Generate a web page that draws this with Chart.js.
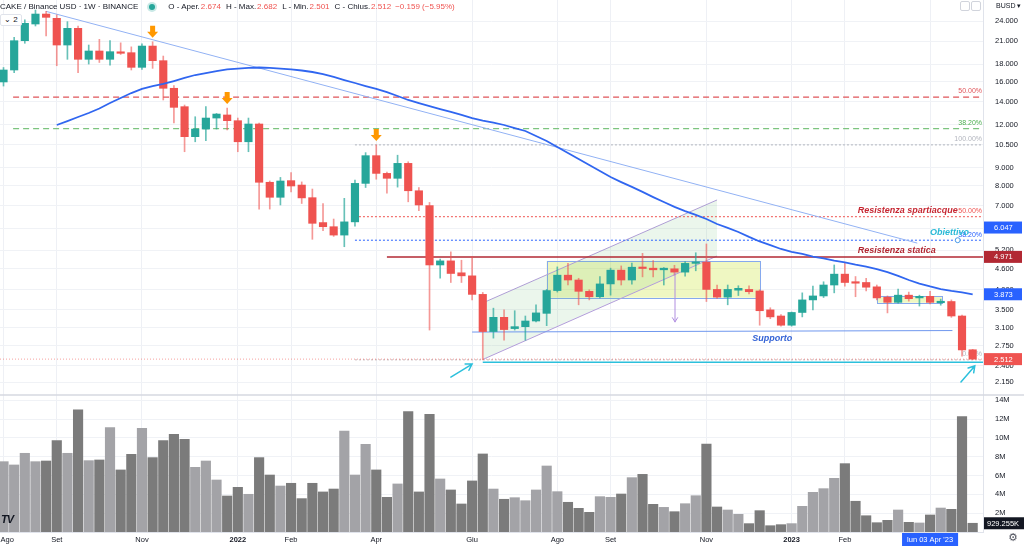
<!DOCTYPE html>
<html>
<head>
<meta charset="utf-8">
<script src="https://cdn.jsdelivr.net/npm/chart.js@4.4.0/dist/chart.umd.min.js"></script>
<style>
html, body { margin: 0; padding: 0; background: #fff; }
#wrap { position: relative; width: 1024px; height: 546px; overflow: hidden; font-family: "Liberation Sans", Arial, sans-serif; }
#chart { position: absolute; left: 0; top: 0; }
#hdr { position: absolute; left: 0; top: 1px; font-size: 8px; line-height: 11px; color: #131722; white-space: nowrap; }
#hdr .k { margin-left: 5px; }
#hdr .v { color: #ef5350; margin-left: 1px; }
#hdr .dot { display: inline-block; width: 6px; height: 6px; border-radius: 50%; background: #26a69a; box-shadow: 0 0 0 2px rgba(38,166,154,0.25); margin: 0 8px 0 11px; vertical-align: -1px; }
#legbtn { position: absolute; left: 0; top: 14px; font-size: 8px; line-height: 10px; padding: 0 3px; border: 1px solid #e0e3eb; border-radius: 2px; background: #fff; color: #131722; }
#cur { position: absolute; left: 996px; top: 2px; font-size: 7px; color: #131722; }
.ico { position: absolute; top: 1px; width: 8px; height: 8px; border: 1px solid #d1d4dc; border-radius: 2px; background: #fff; }
#gear { position: absolute; left: 1008px; top: 531px; font-size: 11px; color: #50535e; font-family: "DejaVu Sans", sans-serif; }
#logo { position: absolute; left: 1px; top: 513px; font-size: 11px; font-weight: bold; font-style: italic; color: #131722; letter-spacing: -1px; }
</style>
</head>
<body>
<div id="wrap">
  <canvas id="chart" width="1024" height="546"></canvas>
  <div id="hdr">CAKE / Binance USD · 1W · BINANCE<span class="dot"></span><span class="k">O - Aper.</span><span class="v">2.674</span><span class="k">H - Max.</span><span class="v">2.682</span><span class="k">L - Min.</span><span class="v">2.501</span><span class="k">C - Chius.</span><span class="v">2.512</span><span class="v" style="margin-left:4px">−0.159 (−5.95%)</span></div>
  <div id="legbtn">⌄ 2</div>
  <div id="cur">BUSD ▾</div>
  <div class="ico" style="left:960px"></div>
  <div class="ico" style="left:971px"></div>
  <div id="gear">⚙</div>
  <div id="logo">TV</div>
</div>
<script>
// settimane: indice 0 = lun 02 Ago 2021 ... 91 = lun 01 Mag 2023
const open  = [15.98,17.31,21.05,23.53,25.15,24.44,20.45,22.86,18.59,19.65,18.59,19.43,19.43,17.62,20.31,18.42,15.32,13.55,11.09,11.67,
               12.56,12.82,12.34,10.72,12.07,8.18,7.40,8.27,8.03,7.38,6.25,6.08,5.75,6.28,8.12,9.77,8.68,8.40,9.28,7.73,
               7.00,4.71,4.84,4.47,4.38,3.87,3.02,3.32,3.08,3.12,3.24,3.41,3.97,4.40,4.26,3.95,3.81,4.15,4.55,4.26,
               4.64,4.61,4.56,4.59,4.49,4.76,4.80,4.00,3.80,3.98,4.00,3.96,3.49,3.35,3.15,3.43,3.73,3.83,4.12,4.43,
               4.21,4.19,4.07,3.80,3.67,3.85,3.78,3.82,3.66,3.69,3.35,2.674];
const high  = [17.6,21.53,24.2,25.83,25.6,25.0,23.9,23.2,20.45,21.24,21.05,20.75,20.2,20.6,20.9,19.0,15.6,13.7,12.67,13.55,
               12.95,13.43,12.56,12.56,12.15,8.25,8.45,8.72,8.2,7.82,7.1,6.4,7.35,8.3,9.97,10.5,8.75,9.8,9.38,7.9,
               7.15,4.9,5.14,4.86,4.98,3.92,3.53,3.49,3.47,3.35,3.61,4.0,4.65,4.76,4.31,3.99,4.36,4.61,4.68,4.77,
               5.09,4.85,4.63,4.7,4.82,5.11,5.42,4.12,4.12,4.1,4.1,3.99,3.54,3.38,3.44,3.91,4.09,4.21,4.71,4.76,
               4.36,4.31,4.12,3.83,4.01,3.93,3.85,3.95,3.75,3.73,3.37,2.682];
const low   = [15.55,17.0,20.69,23.22,21.72,17.81,18.59,17.0,18.01,18.2,17.89,19.2,17.31,17.39,17.5,14.17,12.15,10.03,10.72,10.8,
               11.67,11.6,10.03,10.03,6.84,6.84,7.03,7.67,7.1,5.59,5.92,5.7,5.32,6.1,7.9,8.35,7.6,7.92,7.18,6.77,
               3.05,4.31,4.19,4.19,3.73,2.5,2.89,2.85,3.05,2.85,3.22,3.14,3.93,4.12,3.61,3.73,3.78,3.85,4.12,4.14,
               4.35,4.35,4.12,4.4,4.37,4.53,3.69,3.77,3.61,3.84,3.88,3.15,3.29,3.13,3.13,3.33,3.49,3.79,3.91,4.09,
               3.81,3.96,3.73,3.42,3.65,3.7,3.58,3.63,3.6,3.32,2.56,2.501];
const close = [17.31,21.05,23.64,25.15,24.6,20.45,22.86,18.59,19.65,18.59,19.56,19.35,17.62,20.31,18.42,15.32,13.49,11.09,11.67,12.56,
               12.9,12.34,10.72,12.07,8.18,7.4,8.25,7.98,7.37,6.22,6.08,5.75,6.28,8.12,9.77,8.68,8.4,9.28,7.73,7.03,
               4.71,4.84,4.45,4.38,3.87,3.02,3.32,3.06,3.12,3.24,3.42,3.97,4.4,4.26,3.95,3.81,4.15,4.55,4.26,4.64,
               4.6,4.56,4.61,4.49,4.76,4.8,4.0,3.8,4.0,4.03,3.94,3.47,3.33,3.15,3.43,3.73,3.83,4.12,4.43,4.19,
               4.17,4.06,3.78,3.67,3.85,3.76,3.82,3.67,3.69,3.35,2.671,2.512];
// volume in milioni
const volume = [7.48,7.13,8.37,7.48,7.55,9.72,8.37,12.98,7.59,7.66,11.10,6.60,8.26,11.03,7.91,9.72,10.39,9.86,6.88,7.55,
                5.53,3.83,4.75,4.01,7.91,6.06,4.89,5.18,3.55,5.18,4.26,4.57,10.74,6.06,9.33,6.60,3.69,5.11,12.80,4.26,
                12.52,5.64,4.47,2.98,5.43,8.30,4.57,3.48,3.65,3.33,4.47,7.02,4.29,3.16,2.52,2.09,3.76,3.69,4.04,5.78,
                6.13,2.94,2.62,2.16,3.01,3.86,9.36,2.66,2.34,1.88,0.89,2.27,0.67,0.78,0.89,2.73,4.22,4.61,5.71,7.27,
                3.27,1.73,0.99,1.24,2.34,1.03,0.96,1.81,2.55,2.41,12.27,0.929255];
// media mobile (blu)
const ma = [null,null,null,null,null,11.99,12.31,12.65,12.99,13.39,13.88,14.36,14.84,15.25,15.55,15.77,16.08,16.41,16.74,16.96,
            17.19,17.37,17.48,17.56,17.6,17.56,17.48,17.37,17.25,17.08,16.85,16.52,16.19,15.87,15.55,15.25,14.94,14.55,14.17,13.88,
            13.61,13.34,13.08,12.82,12.56,12.35,12.19,11.99,11.75,11.52,11.14,10.78,10.35,9.95,9.55,9.18,8.82,8.47,8.19,7.93,
            7.67,7.41,7.17,6.94,6.75,6.58,6.40,6.19,6.03,5.87,5.68,5.51,5.38,5.24,5.14,5.07,4.98,4.92,4.85,4.79,
            4.72,4.66,4.58,4.49,4.38,4.26,4.16,4.08,4.01,3.96,3.92,3.873];

const monthIdx = [0,5,13,22,27,35,44,52,57,66,74,79,87];
const monthLbl = ['Ago','Set','Nov','2022','Feb','Apr','Giu','Ago','Set','Nov','2023','Feb','Apr'];
const priceTicks = [24,21,18,16,14,12,10.5,9,8,7,6,5.2,4.6,4,3.5,3.1,2.75,2.4,2.15];
const volTicks = [2,4,6,8,10,12,14];

// disegni (indice settimana, prezzo)
const trendPts   = [[4,25.6],[85.8,5.45]];
const fibA       = [['50.00%',14.45],['38.20%',11.71]];
const fibB       = [['100.00%',10.5],['50.00%',6.5],['38.20%',5.556],['0.00%',2.5]];
const resStatica = 4.971;
const supportPts = [[44,3.01],[89.1,3.04]];
const cyanLevel  = 2.459;
const chanLow    = [[45,2.506],[67,5.0]];
const chanHigh   = [[45,3.656],[67,7.27]];
const boxes      = [[51,71.03,4.84,3.785],[82,88.1,3.83,3.66]];
const orangeIdx  = [14,21,35];
const cyanArrows = [[42,2.229,44,2.431],[89.9,2.156,91.2,2.40]];
const purpleArr  = [63.05,4.47,3.22];
const lastPrice  = 2.512;
const tagBoxes   = [[6.047,'#2962ff'],[4.971,'#b22833'],[3.873,'#2962ff'],[2.512,'#ef5350']];
const dateTag    = [87,"lun 03 Apr '23"];

const X_MIN = -0.33, X_MAX = 91.97;
const FONT = '"Liberation Sans", Arial, sans-serif';
Chart.defaults.font.family = FONT;

const up = open.map((o,i) => close[i] >= o);
const GREEN = '#26a69a', RED = '#ef5350';

function seg(pts, color, width, dash, order, extra) {
  return Object.assign({
    type: 'line', data: pts.map(p => ({x: p[0], y: p[1]})),
    borderColor: color, borderWidth: width, borderDash: dash || [],
    pointRadius: 0, fill: false, tension: 0, order: order, yAxisID: 'y'
  }, extra || {});
}

const datasets = [
  { type: 'bar', yAxisID: 'yv', order: 9, grouped: false, barThickness: 9.5,
    data: volume.map((v,i) => ({x: i, y: v})),
    backgroundColor: up.map(u => u ? '#a3a3a7' : '#7b7b7b') },
  seg(chanLow, '#b39ddb', 1, [], 8, { fill: '+1', backgroundColor: 'rgba(102,187,106,0.13)' }),
  seg(chanHigh, '#b39ddb', 1, [], 8),
  seg(trendPts, '#92b2f4', 1, [], 7),
  ...fibA.map((f,k) => seg([[0.9,f[1]],[X_MAX,f[1]]], k ? '#7cc47f' : '#e0555a', 1.3, [6,4], 7)),
  ...fibB.map((f,k) => seg([[33,f[1]],[X_MAX,f[1]]], ['#b2b5be','#ef5350','#2962ff','#c4b5b8'][k], 1, [2,2], 7)),
  seg([[36,resStatica],[X_MAX,resStatica]], '#b22833', 1.5, [], 6),
  seg(supportPts, '#6f97ee', 1, [], 6),
  seg([[45,cyanLevel],[X_MAX,cyanLevel]], '#2cc0dc', 1.5, [], 6),
  seg([[X_MIN,lastPrice],[X_MAX,lastPrice]], 'rgba(239,83,80,0.55)', 1, [1,2], 6),
  { type: 'bar', yAxisID: 'y', order: 3, grouped: false, barThickness: 1,
    data: open.map((o,i) => ({x: i, y: [low[i], high[i]]})),
    backgroundColor: up.map(u => u ? 'rgba(38,166,154,0.7)' : 'rgba(239,83,80,0.6)') },
  { type: 'bar', yAxisID: 'y', order: 2, grouped: false, barThickness: 7.5, minBarLength: 1.5,
    data: open.map((o,i) => ({x: i, y: [o, close[i]]})),
    backgroundColor: up.map(u => u ? GREEN : RED) },
  seg(ma.map((v,i) => [i,v]).filter(p => p[1] !== null), '#3066f0', 1.8, [], 1)
];

function arrowHead(ctx, x1, y1, x2, y2, len) {
  const a = Math.atan2(y2 - y1, x2 - x1);
  ctx.beginPath();
  ctx.moveTo(x1, y1); ctx.lineTo(x2, y2);
  ctx.moveTo(x2 - len * Math.cos(a - 0.55), y2 - len * Math.sin(a - 0.55));
  ctx.lineTo(x2, y2);
  ctx.lineTo(x2 - len * Math.cos(a + 0.55), y2 - len * Math.sin(a + 0.55));
  ctx.stroke();
}

const overlay = {
  id: 'overlay',
  beforeDatasetsDraw(chart) {
    const {ctx, scales: {x, y}} = chart;
    ctx.save();
    boxes.forEach(b => {
      const l = x.getPixelForValue(b[0]), r = x.getPixelForValue(b[1]);
      const t = y.getPixelForValue(b[2]), bt = y.getPixelForValue(b[3]);
      ctx.fillStyle = 'rgba(206,230,70,0.33)';
      ctx.fillRect(l, t, r - l, bt - t);
      ctx.strokeStyle = '#86a9ee'; ctx.lineWidth = 1;
      ctx.strokeRect(Math.round(l) + 0.5, Math.round(t) + 0.5, Math.round(r - l), Math.round(bt - t));
    });
    // etichette livelli fib
    const right = chart.chartArea.right - 1;
    ctx.font = '7px ' + FONT; ctx.textAlign = 'right'; ctx.textBaseline = 'bottom';
    fibA.forEach((f,k) => { ctx.fillStyle = k ? '#4caf50' : '#e0555a'; ctx.fillText(f[0], right, y.getPixelForValue(f[1]) - 2); });
    fibB.forEach((f,k) => { ctx.fillStyle = ['#b2b5be','#ef5350','#2962ff','#b2b5be'][k]; ctx.fillText(f[0], right, y.getPixelForValue(f[1]) - 2); });
    ctx.restore();
  },
  afterDatasetsDraw(chart) {
    const {ctx, scales: {x, y}} = chart;
    ctx.save();
    // frecce arancioni
    ctx.fillStyle = '#ff9800';
    orangeIdx.forEach(i => {
      const cx = x.getPixelForValue(i), tip = y.getPixelForValue(high[i]) - 4;
      ctx.beginPath();
      ctx.moveTo(cx, tip); ctx.lineTo(cx - 5.5, tip - 6); ctx.lineTo(cx - 2.5, tip - 6);
      ctx.lineTo(cx - 2.5, tip - 12); ctx.lineTo(cx + 2.5, tip - 12); ctx.lineTo(cx + 2.5, tip - 6);
      ctx.lineTo(cx + 5.5, tip - 6); ctx.closePath(); ctx.fill();
    });
    // frecce ciano
    ctx.strokeStyle = '#2cc0dc'; ctx.lineWidth = 1.5; ctx.lineCap = 'round';
    cyanArrows.forEach(a => arrowHead(ctx, x.getPixelForValue(a[0]), y.getPixelForValue(a[1]), x.getPixelForValue(a[2]), y.getPixelForValue(a[3]), 7));
    // freccia viola
    ctx.strokeStyle = '#b08ee0'; ctx.lineWidth = 1;
    const px = x.getPixelForValue(purpleArr[0]);
    arrowHead(ctx, px, y.getPixelForValue(purpleArr[1]), px, y.getPixelForValue(purpleArr[2]), 5);
    // testi
    ctx.font = 'italic bold 9px ' + FONT; ctx.textAlign = 'left'; ctx.textBaseline = 'bottom';
    ctx.fillStyle = '#c62833';
    ctx.fillText('Resistenza spartiacque', x.getPixelForValue(80.2), y.getPixelForValue(6.5) - 2);
    ctx.fillStyle = '#b22833';
    ctx.fillText('Resistenza statica', x.getPixelForValue(80.2), y.getPixelForValue(resStatica) - 2);
    ctx.fillStyle = '#29b9d6';
    ctx.fillText('Obiettivo', x.getPixelForValue(87), y.getPixelForValue(5.556) - 3);
    ctx.fillStyle = '#3463d6'; ctx.textBaseline = 'top';
    ctx.fillText('Supporto', x.getPixelForValue(70.3), y.getPixelForValue(3.04) + 3);
    // cerchio obiettivo
    ctx.beginPath();
    ctx.arc(x.getPixelForValue(89.6), y.getPixelForValue(5.556), 2.5, 0, Math.PI * 2);
    ctx.fillStyle = '#fff'; ctx.fill(); ctx.strokeStyle = '#4a9be8'; ctx.lineWidth = 1; ctx.stroke();
    ctx.restore();
  },
  afterDraw(chart) {
    const {ctx, scales: {x, y, yv}, chartArea} = chart;
    const W = chart.width;
    ctx.save();
    // separatore pannelli
    ctx.strokeStyle = '#d6d9e0'; ctx.lineWidth = 1.5;
    ctx.beginPath(); ctx.moveTo(0, yv.top); ctx.lineTo(W, yv.top); ctx.stroke();
    // etichette prezzo
    ctx.font = '7.5px ' + FONT; ctx.textBaseline = 'middle'; ctx.textAlign = 'left';
    tagBoxes.forEach(t => {
      const py = y.getPixelForValue(t[0]);
      ctx.fillStyle = t[1];
      ctx.fillRect(chartArea.right + 1, py - 6, W - chartArea.right - 3, 12);
      ctx.fillStyle = '#fff';
      ctx.fillText(t[0].toFixed(3), chartArea.right + 11, py + 0.5);
    });
    // etichetta volume
    const vy = yv.getPixelForValue(volume[volume.length - 1]);
    ctx.fillStyle = '#131722';
    ctx.fillRect(chartArea.right + 1, vy - 6, W - chartArea.right, 12);
    ctx.fillStyle = '#fff';
    ctx.fillText((volume[volume.length - 1] * 1000).toFixed(3) + 'K', chartArea.right + 4, vy + 0.5);
    // data
    const dx = x.getPixelForValue(dateTag[0]);
    ctx.textAlign = 'center';
    const tw = ctx.measureText(dateTag[1]).width + 10;
    ctx.fillStyle = '#2962ff';
    ctx.fillRect(dx - tw / 2, chartArea.bottom + 1, tw, 13);
    ctx.fillStyle = '#fff';
    ctx.fillText(dateTag[1], dx, chartArea.bottom + 8);
    ctx.restore();
  }
};

new Chart(document.getElementById('chart'), {
  type: 'bar',
  data: { datasets },
  options: {
    responsive: false,
    animation: false,
    events: [],
    layout: { padding: 0 },
    plugins: { legend: { display: false }, tooltip: { enabled: false } },
    scales: {
      x: {
        type: 'linear', min: X_MIN, max: X_MAX, bounds: 'data', offset: false,
        grid: { color: '#eef0f5', drawTicks: false, offset: false },
        border: { color: '#e0e3eb' },
        afterBuildTicks: a => { a.ticks = monthIdx.map(v => ({value: v})); },
        afterFit: a => { a.height = 14; a.paddingLeft = 0; a.paddingRight = 0; },
        ticks: {
          autoSkip: false, maxRotation: 0, padding: 3, color: '#131722',
          font: c => ({ family: FONT, size: 7.5, weight: (c.tick && /^\d{4}$/.test(monthLbl[monthIdx.indexOf(c.tick.value)])) ? 'bold' : 'normal' }),
          callback: (v, i) => i === 0 ? '\u2002\u2002' + monthLbl[i] : monthLbl[i]
        }
      },
      y: {
        type: 'logarithmic', position: 'right', stack: 'pane', stackWeight: 395,
        min: 1.977, max: 27.62, bounds: 'data',
        grid: { color: '#f0f2f6', drawTicks: false },
        border: { color: '#e0e3eb' },
        afterBuildTicks: a => { a.ticks = priceTicks.map(v => ({value: v})); },
        afterFit: a => { a.width = 41; a.paddingTop = 0; a.paddingBottom = 0; },
        ticks: { autoSkip: false, padding: 12, color: '#131722', font: { size: 7.5 }, callback: v => Number(v).toFixed(3) }
      },
      yv: {
        type: 'linear', position: 'right', stack: 'pane', stackWeight: 137,
        min: 0, max: 14.57, bounds: 'data',
        grid: { color: '#f0f2f6', drawTicks: false },
        border: { color: '#e0e3eb' },
        afterBuildTicks: a => { a.ticks = volTicks.map(v => ({value: v})); },
        afterFit: a => { a.width = 41; a.paddingTop = 0; a.paddingBottom = 0; },
        ticks: { autoSkip: false, padding: 12, color: '#131722', font: { size: 7.5 }, callback: v => v + 'M' }
      }
    }
  },
  plugins: [overlay]
});
</script>
</body>
</html>
